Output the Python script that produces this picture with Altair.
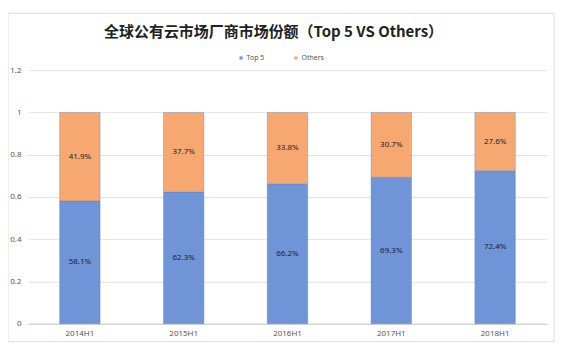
import altair as alt
import pandas as pd

periods = ["2014H1", "2015H1", "2016H1", "2017H1", "2018H1"]
top5 = [0.581, 0.623, 0.662, 0.693, 0.724]
others = [0.419, 0.377, 0.338, 0.307, 0.276]
series = ["Top 5", "Others"]
colors = ["#7094D8", "#F6A870"]

rows = []
for p, t, o in zip(periods, top5, others):
    rows.append({"period": p, "series": "Top 5", "value": t, "start": 0.0, "end": t})
    rows.append({"period": p, "series": "Others", "value": o, "start": t, "end": t + o})
df = pd.DataFrame(rows)
df["mid"] = (df["start"] + df["end"]) / 2
df["label"] = (df["value"] * 100).map(lambda v: f"{v:.1f}%")

x = alt.X("period:N", sort=periods, title=None,
          scale=alt.Scale(paddingInner=0.61, paddingOuter=0.305),
          axis=alt.Axis(labelAngle=0, labelFontSize=8, labelColor="#555", domainColor="#cccccc",
                        ticks=False, labelPadding=6))

frame = alt.Chart(pd.DataFrame({"k": [0]})).mark_rect(
    fill=None, stroke="#dddddd", strokeWidth=1
).encode(x=alt.value(-20), x2=alt.value(527), y=alt.value(-57), y2=alt.value(272))

bars = alt.Chart(df).mark_bar(stroke="#5a7ec0", strokeWidth=0.6, strokeOpacity=0.6).encode(
    x=x,
    y=alt.Y("start:Q", title=None,
            scale=alt.Scale(domain=[0, 1.2]),
            axis=alt.Axis(values=[0, 0.2, 0.4, 0.6, 0.8, 1.0, 1.2], format="~g",
                          labelFontSize=8, labelColor="#555", domain=False, ticks=False,
                          gridColor="#e3e3e3", labelPadding=7)),
    y2="end:Q",
    color=alt.Color("series:N", sort=series,
                    scale=alt.Scale(domain=series, range=colors),
                    legend=alt.Legend(title=None, orient="none", direction="horizontal",
                                      legendX=210, legendY=-16, labelFontSize=7,
                                      labelColor="#555", symbolType="square", symbolSize=10,
                                      symbolStrokeWidth=0, labelOffset=2,
                                      columnPadding=28)),
)

labels = alt.Chart(df).mark_text(fontSize=8, color="#222").encode(
    x=alt.X("period:N", sort=periods),
    y=alt.Y("mid:Q"),
    text="label:N",
)

chart = alt.layer(frame, bars, labels).properties(
    width=520, height=254,
    title=alt.Title("全球公有云市场厂商市场份额（Top 5 VS Others）",
                    fontSize=15, font="Noto Sans CJK SC", fontWeight="bold",
                    color="#222", anchor="middle", dx=-14, offset=-27),
    padding={"left": 20, "top": 62, "right": 10, "bottom": 25},
    autosize=alt.AutoSizeParams(type="none"),
).configure(font="Noto Sans").configure_view(stroke=None)

chart.save("out.html", embed_options={"renderer": "svg", "actions": False})
